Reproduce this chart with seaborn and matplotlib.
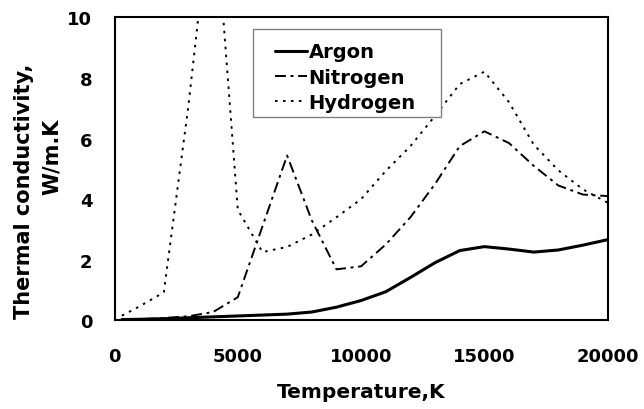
import matplotlib
matplotlib.use("Agg")
import matplotlib.pyplot as plt
from matplotlib.patches import Rectangle
import seaborn as sns
import pandas as pd

temperature = [300, 1000, 2000, 3000, 4000, 5000, 6000, 7000, 8000, 9000, 10000,
               11000, 12000, 13000, 14000, 15000, 16000, 17000, 18000, 19000, 20000]
argon = [0.02, 0.03, 0.05, 0.08, 0.11, 0.14, 0.17, 0.20, 0.27, 0.43, 0.65,
         0.94, 1.41, 1.90, 2.30, 2.43, 2.35, 2.25, 2.32, 2.48, 2.66]
nitrogen = [0.02, 0.03, 0.07, 0.13, 0.27, 0.76, 3.10, 5.44, 3.30, 1.68, 1.78,
            2.50, 3.40, 4.50, 5.75, 6.24, 5.85, 5.10, 4.45, 4.15, 4.10]
hydrogen = [0.15, 0.45, 0.92, 7.10, 14.4, 3.65, 2.25, 2.42, 2.83, 3.40, 4.00,
            4.93, 5.75, 6.75, 7.80, 8.21, 7.20, 5.80, 4.95, 4.32, 3.88]
series_names = ["Argon", "Nitrogen", "Hydrogen"]

sns.set_style("white")
plt.rcParams["font.family"] = ["DejaVu Sans"]
plt.rcParams["font.weight"] = "bold"
for key in ["text.color", "axes.labelcolor", "xtick.color", "ytick.color",
            "axes.edgecolor"]:
    plt.rcParams[key] = "black"

fig = plt.figure(figsize=(6.44, 4.10), dpi=100)
ax = fig.add_axes([0.1778, 0.2166, 0.9436 - 0.1778, 0.9549 - 0.2166])

df = pd.DataFrame({"T": temperature, "Argon": argon,
                   "Nitrogen": nitrogen, "Hydrogen": hydrogen})

styles = {
    "Argon": dict(lw=2.2, linestyle="-"),
    "Nitrogen": dict(lw=1.4, linestyle=(0, (5.6, 2.4, 1.5, 2.4))),
    "Hydrogen": dict(lw=1.4, linestyle=(0, (1.3, 2.8))),
}
for name in series_names:
    sns.lineplot(data=df, x="T", y=name, ax=ax, color="black",
                 label=name, estimator=None, sort=False, **styles[name])

ax.set_xlim(0, 20000)
ax.set_ylim(0, 10)
ax.set_xticks([0, 5000, 10000, 15000, 20000])
ax.set_yticks([0, 2, 4, 6, 8, 10])
ax.tick_params(axis="both", direction="in", length=3.6, width=1.0,
               colors="black", labelsize=13)
ax.tick_params(axis="x", pad=19)
ax.tick_params(axis="y", pad=16)
for lbl in ax.get_xticklabels() + ax.get_yticklabels():
    lbl.set_fontweight("bold")
for sp in ax.spines.values():
    sp.set_visible(True)
    sp.set_color("black")
    sp.set_linewidth(1.5)

ax.set_xlabel("Temperature,K", fontsize=14.5, fontweight="bold", va="center",
              color="black")
ax.xaxis.set_label_coords(0.5, -0.234)
ax.set_ylabel("")

fig.text(0.0365, 0.534, "Thermal conductivity,", rotation=90, ha="center",
         va="center", fontsize=15, fontweight="bold", color="black")
fig.text(0.080, 0.617, "W/m.K", rotation=90, ha="center",
         va="center", fontsize=15, fontweight="bold", color="black")

# legend frame
ax.add_patch(Rectangle((0.2809, 0.6713), 0.3813, 0.291, transform=ax.transAxes,
                       facecolor="white", edgecolor="#808080", linewidth=1.0,
                       zorder=4))
leg = ax.legend(loc="upper left", bbox_to_anchor=(0.3254, 0.918),
                borderaxespad=0, frameon=False,
                handlelength=1.65, handletextpad=0.08, labelspacing=0.33,
                borderpad=0, prop={"size": 14, "weight": "bold"})
leg.set_zorder(5)
for t in leg.get_texts():
    t.set_color("black")

fig.savefig("out.png", dpi=100, facecolor="white")
